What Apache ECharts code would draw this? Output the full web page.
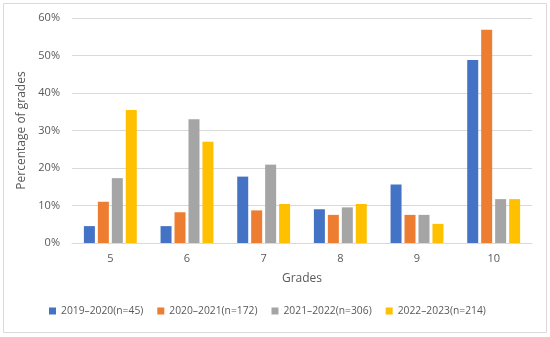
<!DOCTYPE html>
<html><head><meta charset="utf-8">
<script src="https://cdn.jsdelivr.net/npm/echarts@6/dist/echarts.min.js"></script>
<style>html,body{margin:0;padding:0;background:#fff}#c{width:550px;height:337px}</style>
</head><body><div id="c"></div>
<script>
const categories = ['5','6','7','8','9','10'];
const seriesNames = ['2019\u20132020(n=45)','2020\u20132021(n=172)','2021\u20132022(n=306)','2022\u20132023(n=214)'];
const s2019 = [4.5, 4.5, 17.7, 9.0, 15.6, 48.8];
const s2020 = [11.0, 8.2, 8.7, 7.5, 7.5, 56.9];
const s2021 = [17.3, 33.0, 20.9, 9.5, 7.5, 11.7];
const s2022 = [35.5, 27.0, 10.4, 10.4, 5.1, 11.7];
const colors = ['#4472C4','#ED7D31','#A5A5A5','#FFC000'];
const font = 'Open Sans';
const chart = echarts.init(document.getElementById('c'));
const data = [s2019, s2020, s2021, s2022];
chart.setOption({
  animation:false,
  graphic:[{type:'rect',shape:{x:3.5,y:3.5,width:543,height:329},style:{fill:'none',stroke:'#d9d9d9',lineWidth:1}}],
  grid:{left:72,right:18,top:18,bottom:94},
  legend:{bottom:16,left:44,itemWidth:7,itemHeight:7,itemGap:14,icon:'rect',
    textStyle:{color:'#595959',fontFamily:font,fontSize:10.3}},
  xAxis:{type:'category',data:categories,name:'Grades',nameLocation:'middle',nameGap:30,
    nameTextStyle:{color:'#595959',fontFamily:font,fontSize:12},
    axisLine:{lineStyle:{color:'#d9d9d9'}},axisTick:{show:false},
    axisLabel:{color:'#595959',fontFamily:font,fontSize:11,margin:10}},
  yAxis:{type:'value',min:0,max:60,interval:10,name:'Percentage of grades',nameLocation:'middle',nameGap:44,
    nameTextStyle:{color:'#595959',fontFamily:font,fontSize:12},
    axisLine:{show:false},axisTick:{show:false},
    axisLabel:{formatter:'{value}%',color:'#595959',fontFamily:font,fontSize:11,margin:12},
    splitLine:{lineStyle:{color:'#d9d9d9'}}},
  series:seriesNames.map((n,i)=>({name:n,type:'bar',data:data[i],barGap:'27%',barCategoryGap:'31%',
    itemStyle:{color:colors[i]}}))
});
</script></body></html>
